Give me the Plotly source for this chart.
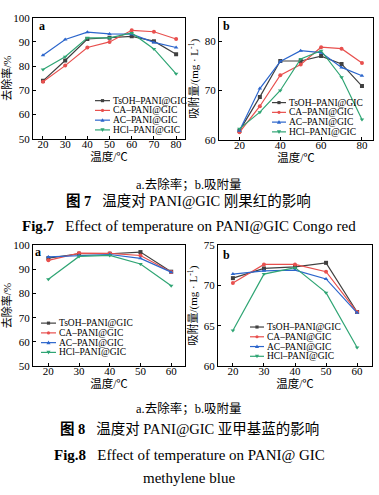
import plotly.graph_objects as go

W, H = 379, 495

# ---------------- data ----------------
series_names = ["TsOH–PANI@GIC", "CA–PANI@GIC", "AC–PANI@GIC", "HCl–PANI@GIC"]
series_colors = ["#404040", "#e8504e", "#2c66cc", "#2fa574"]
series_symbols = ["square", "circle", "triangle-up", "triangle-down"]

temp7 = [20, 30, 40, 50, 60, 70, 80]
removal7 = [
    [73.9, 82.3, 91.2, 91.7, 92.3, 90.3, 84.9],
    [73.5, 80.2, 87.7, 90.0, 94.8, 94.2, 91.2],
    [84.5, 91.0, 94.0, 93.3, 93.2, 89.8, 87.7],
    [78.6, 83.9, 91.7, 91.7, 93.7, 87.1, 76.8],
]
adsorb7 = [
    [61.8, 68.7, 76.0, 76.0, 77.0, 75.4, 70.9],
    [61.5, 66.8, 73.1, 75.3, 78.8, 78.5, 75.6],
    [61.8, 70.4, 75.9, 78.1, 77.7, 74.7, 73.0],
    [62.2, 65.6, 70.0, 76.4, 78.1, 72.7, 64.1],
]

temp8 = [20, 30, 40, 50, 60]
removal8 = [
    [94.6, 96.4, 96.4, 97.1, 89.0],
    [93.7, 96.7, 96.6, 95.7, 88.9],
    [95.1, 95.7, 96.1, 94.5, 88.8],
    [85.9, 95.3, 95.7, 92.2, 83.2],
]
adsorb8 = [
    [70.9, 72.1, 72.3, 72.8, 66.7],
    [70.3, 72.6, 72.6, 71.7, 66.7],
    [71.4, 71.8, 71.9, 70.8, 66.6],
    [64.4, 71.4, 72.2, 69.1, 62.3],
]

xlabel = "温度/℃"
ylabel_a = "去除率/%"
ylabel_b = "吸附量/(mg · L<sup>-1</sup>)"

SERIF = "Liberation Serif, Times New Roman, Noto Sans CJK SC"
CJK = "Liberation Serif, Noto Sans CJK SC"


def px(x):
    return x / W


def py(y):
    return 1 - y / H


fig = go.Figure()

panels = [
    ("", temp7, removal7, (33, 185), (12, 136), [15.5, 84], [50, 100], [50, 60, 70, 80, 90, 100], ylabel_a),
    ("2", temp7, adsorb7, (219, 373), (12, 137), [10, 85.4], [60, 84.8], [60, 70, 80], ylabel_b),
    ("3", temp8, removal8, (33, 185), (245, 369), [15, 64.5], [50, 100], [50, 60, 70, 80, 90, 100], ylabel_a),
    ("4", temp8, adsorb8, (218, 372), (245, 369), [15.2, 64.8], [60, 75], [60, 65, 70, 75], ylabel_b),
]

xtickvals = {"": [20, 30, 40, 50, 60, 70, 80], "2": [20, 40, 60, 80],
             "3": [20, 30, 40, 50, 60], "4": [20, 30, 40, 50, 60]}

layout_axes = {}
for suf, xs, ys, xd, yd, xr, yr, ytv, ytitle in panels:
    for i in range(4):
        fig.add_trace(go.Scatter(
            x=xs, y=ys[i], mode="lines+markers", name=series_names[i],
            xaxis="x" + suf, yaxis="y" + suf, showlegend=False,
            line=dict(color=series_colors[i], width=1.2),
            marker=dict(symbol=series_symbols[i], size=4, color=series_colors[i]),
        ))
    common = dict(showline=True, linecolor="black", linewidth=1, mirror=True,
                  ticks="inside", ticklen=3, tickcolor="black", showgrid=False,
                  zeroline=False, tickfont=dict(family=SERIF, size=11, color="black"))
    layout_axes["xaxis" + suf] = dict(
        domain=[px(xd[0]), px(xd[1])], range=xr, anchor="y" + suf,
        tickvals=xtickvals[suf], ticklabelstandoff=-5,
        title=dict(text=xlabel, font=dict(family=CJK, size=11.5, color="black"), standoff=0),
        **common)
    layout_axes["yaxis" + suf] = dict(
        domain=[py(yd[1]), py(yd[0])], range=yr, anchor="x" + suf, tickvals=ytv,
        title=dict(text=ytitle, font=dict(family=CJK, size=11, color="black"), standoff=3),
        **common)

fig.update_layout(**layout_axes)

shapes = []
annotations = []

# panel letters
for (xx, yy, t) in [(42, 20, "a"), (226, 21, "b"), (38, 252, "a"), (226, 255, "b")]:
    annotations.append(dict(x=px(xx), y=py(yy), xref="paper", yref="paper", text="<b>%s</b>" % t,
                            showarrow=False, xanchor="center", yanchor="middle",
                            font=dict(family=SERIF, size=12, color="black")))

# manual compact legends
legend_specs = [
    ([97, 107, 117, 127], 95, 110, 112),
    ([99, 109, 119, 129], 272, 286, 288),
    ([325, 335, 345, 355], 41, 56, 58),
    ([329, 339, 349, 359], 250, 264, 266),
]
ms = 1.6
for rows, lx0, lx1, tx in legend_specs:
    for i, ry in enumerate(rows):
        c = series_colors[i]
        shapes.append(dict(type="line", xref="paper", yref="paper", x0=px(lx0), x1=px(lx1),
                           y0=py(ry), y1=py(ry), line=dict(color=c, width=1.2)))
        cx = (lx0 + lx1) / 2
        sym = series_symbols[i]
        if sym == "square":
            shapes.append(dict(type="rect", xref="paper", yref="paper", x0=px(cx - ms), x1=px(cx + ms),
                               y0=py(ry + ms), y1=py(ry - ms), fillcolor=c, line=dict(width=0)))
        elif sym == "circle":
            shapes.append(dict(type="circle", xref="paper", yref="paper", x0=px(cx - ms), x1=px(cx + ms),
                               y0=py(ry + ms), y1=py(ry - ms), fillcolor=c, line=dict(width=0)))
        else:
            s = 1 if sym == "triangle-up" else -1
            pts = [(cx, ry - s * ms * 1.3), (cx - ms * 1.3, ry + s * ms), (cx + ms * 1.3, ry + s * ms)]
            path = "M %f %f L %f %f L %f %f Z" % tuple(v for p in pts for v in (px(p[0]), py(p[1])))
            shapes.append(dict(type="path", xref="paper", yref="paper", path=path,
                               fillcolor=c, line=dict(width=0)))
        annotations.append(dict(x=px(tx), y=py(ry), xref="paper", yref="paper", text=series_names[i],
                                showarrow=False, xanchor="left", yanchor="middle", borderpad=0,
                                font=dict(family=SERIF, size=9.5, color="black")))

# captions
captions = [
    (189, 183, "a.去除率；b.吸附量", 12.5),
    (188, 200, "<b>图 7</b>   温度对 PANI@GIC 刚果红的影响", 14.5),
    (189, 225, "<b>Fig.7</b>   Effect of temperature on PANI@GIC Congo red", 15),
    (189, 413, "a.去除率；b.吸附量", 12.5),
    (189, 433, "<b>图 8</b>   温度对 PANI@GIC 亚甲基蓝的影响", 14.5),
    (189, 460, "<b>Fig.8</b>   Effect of temperature on PANI@ GIC", 15),
    (189, 484, "methylene blue", 15),
]
for xx, yy, t, fs in captions:
    annotations.append(dict(x=px(xx), y=py(yy), xref="paper", yref="paper", text=t,
                            showarrow=False, xanchor="center", yanchor="middle",
                            font=dict(family=CJK, size=fs, color="black")))

fig.update_layout(width=W, height=H, margin=dict(l=0, r=0, t=0, b=0),
                  paper_bgcolor="white", plot_bgcolor="white",
                  shapes=shapes, annotations=annotations, showlegend=False)

fig.write_html("out.html", config={"displayModeBar": False},
               post_script="document.body.style.margin='0';")
